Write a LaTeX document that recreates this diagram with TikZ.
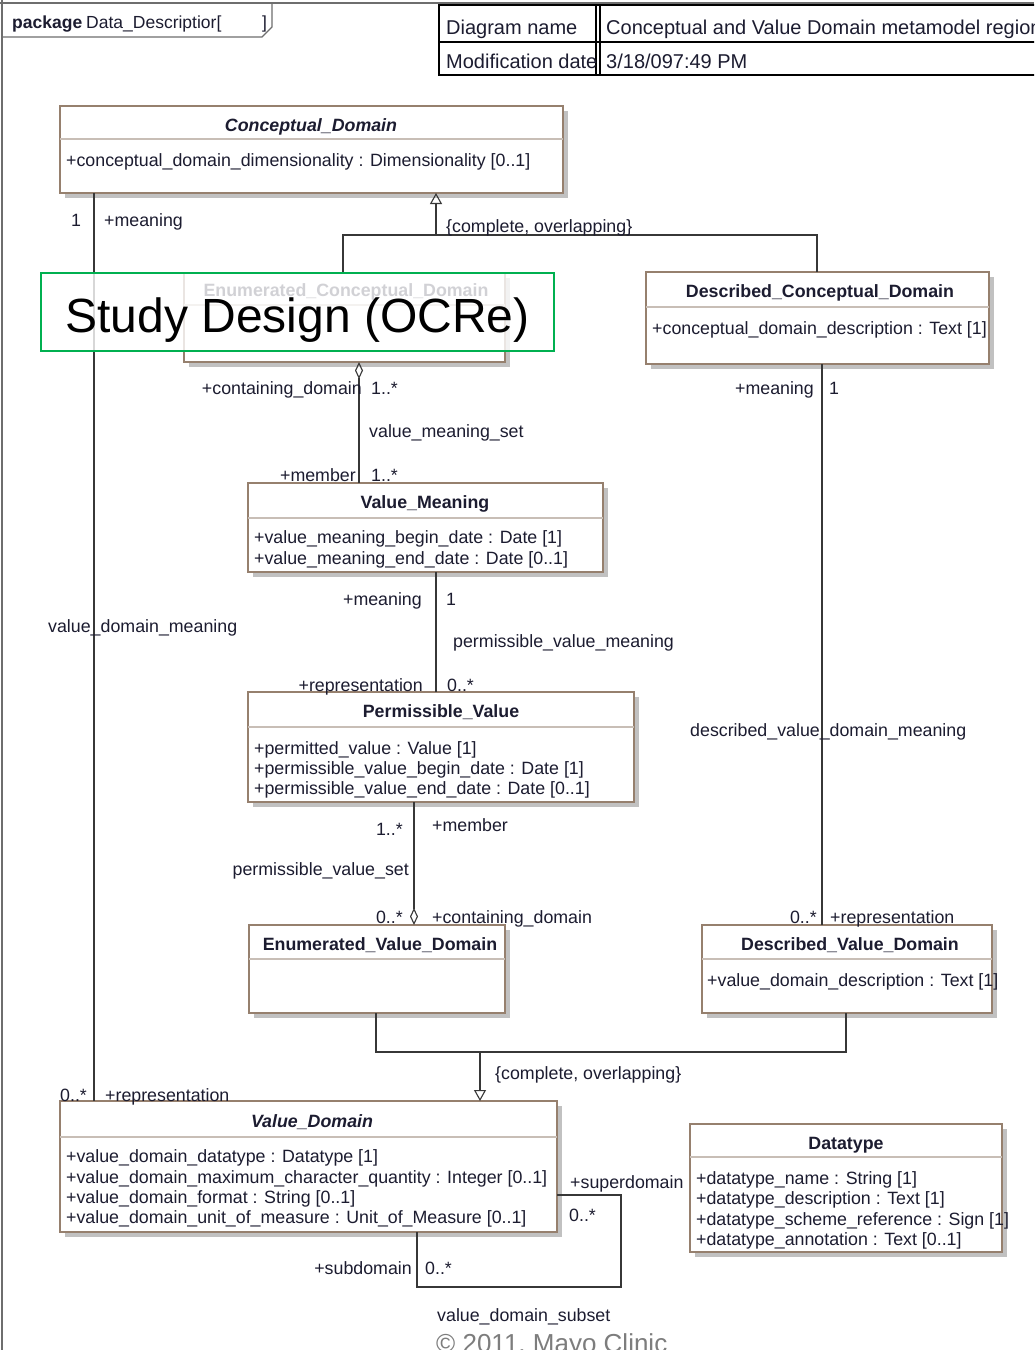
\documentclass[tikz,border=0pt]{standalone}
\usepackage{fontspec}
\setmainfont{Liberation Sans}
\usetikzlibrary{arrows.meta,shadows,fit}

\definecolor{ink}{RGB}{28,28,48}
\definecolor{boxline}{RGB}{150,128,110}
\definecolor{divline}{RGB}{200,190,182}
\definecolor{wire}{RGB}{55,55,55}
\definecolor{framegray}{RGB}{110,110,110}
\definecolor{ocregreen}{RGB}{0,176,80}
\definecolor{footgray}{RGB}{125,125,125}

\newcommand\umlclass[6]{%
  \coordinate (#1-nw) at (#2,#3);
  \coordinate (#1-se) at (#4,#5);
  \node[classbox, fit=(#1-nw)(#1-se)] (#1) {};
  \draw[classdiv] (#2,#6) -- (#4,#6);
}

\begin{document}
\begin{tikzpicture}[x=1pt,y=-1pt,
  classbox/.style={draw=boxline, line width=1.3pt, fill=white, inner sep=0pt, outer sep=0pt,
    drop shadow={shadow xshift=5pt, shadow yshift=-5pt, fill=black!30, opacity=0.8}},
  classdiv/.style={draw=divline, line width=2.2pt},
  lbl/.style={font=\fontsize{17.8}{20.4}\selectfont, text=ink, inner sep=0pt,
    text height=16.7pt, text depth=3.7pt},
  ctitle/.style={lbl, font=\fontsize{17.8}{20.4}\selectfont\bfseries},
  atitle/.style={lbl, font=\fontsize{17.8}{20.4}\selectfont\bfseries\itshape},
  attr/.style={lbl, anchor=west},
  assoc/.style={draw=wire, line width=1.2pt},
  genarrow/.style={assoc, -{Triangle[open, length=11pt, width=12pt, line width=1.1pt]}},
  aggarrow/.style={assoc, {Diamond[open, length=17pt, width=8pt, line width=1.1pt]}-},
  hdr/.style={font=\fontsize{20}{24}\selectfont, text=ink, inner sep=0pt, anchor=west,
    text height=18.3pt, text depth=4.2pt},
]
\useasboundingbox (0,0) rectangle (1034,1350);
\clip (0,0) rectangle (1034,1350);
\fill[white] (0,0) rectangle (1034,1350);

% ---- outer frame and package tab
\draw[framegray, line width=1.5pt] (0,3) -- (1034,3);
\draw[framegray, line width=1.5pt] (2,0) -- (2,1350);
\draw[framegray, line width=1.3pt] (2,37) -- (262,37) -- (272,27) -- (272,3);
\node[lbl, anchor=west, font=\fontsize{17.5}{20}\selectfont\bfseries] (pkgkw) at (12,22) {package};
\node[lbl, anchor=west, font=\fontsize{17.5}{20}\selectfont] (pkgname) at (86,22) {Data\_Descriptior[};
\node[lbl, anchor=west, font=\fontsize{17.5}{20}\selectfont] (pkgclose) at (262,22) {]};

% ---- diagram header table
\draw[black, line width=2.6pt] (439,5) rectangle (1040,75);
\draw[black, line width=2.2pt] (439,42) -- (1040,42);
\draw[black, line width=1.4pt] (596,5) -- (596,75);
\draw[black, line width=1.4pt] (600,5) -- (600,75);
\node[hdr] (hname) at (446,27) {Diagram name};
\node[hdr] (hdate) at (446,61) {Modification date};
\node[hdr] (vname) at (606,27) {Conceptual and Value Domain metamodel region};
\node[hdr] (vdate) at (606,61) {3/18/097:49 PM};

% ---- lanes used by the connectors
\coordinate (laneA) at (94,0);
\coordinate (laneB) at (359,0);
\coordinate (laneC) at (822,0);
\coordinate (laneD) at (436,0);
\coordinate (laneE) at (414,0);
\coordinate (genTopL) at (343,0);
\coordinate (genTopR) at (817,0);
\coordinate (genTopY) at (0,235);
\coordinate (genBotL) at (376,0);
\coordinate (genBotR) at (846,0);
\coordinate (genBotM) at (480,0);
\coordinate (genBotY) at (0,1052);
\coordinate (loopY) at (0,1195);
\coordinate (loopX) at (417,0);
\coordinate (loopC1) at (621,1195);
\coordinate (loopC2) at (621,1287);
\coordinate (loopC3) at (417,1287);

% ---- classes
\umlclass{cd}{60}{106}{563}{193}{139}
\node[atitle] (cdT) at (311,125) {Conceptual\_Domain};
\node[attr] (cdA) at (66,160) {+conceptual\_domain\_dimensionality : Dimensionality [0..1]};

\umlclass{ecd}{184}{273}{505}{362}{305}
\node[ctitle] (ecdT) at (346,290) {Enumerated\_Conceptual\_Domain};

\umlclass{dcd}{646}{272}{989}{364}{307}
\node[ctitle] (dcdT) at (820,291) {Described\_Conceptual\_Domain};
\node[attr] (dcdA) at (652,328) {+conceptual\_domain\_description : Text [1]};

\umlclass{vm}{248}{483}{603}{572}{518}
\node[ctitle] (vmT) at (425,502) {Value\_Meaning};
\node[attr] (vmA1) at (254,537) {+value\_meaning\_begin\_date : Date [1]};
\node[attr] (vmA2) at (254,558) {+value\_meaning\_end\_date : Date [0..1]};

\umlclass{pv}{248}{692}{634}{802}{727}
\node[ctitle] (pvT) at (441,711) {Permissible\_Value};
\node[attr] (pvA1) at (254,748) {+permitted\_value : Value [1]};
\node[attr] (pvA2) at (254,768) {+permissible\_value\_begin\_date : Date [1]};
\node[attr] (pvA3) at (254,788) {+permissible\_value\_end\_date : Date [0..1]};

\umlclass{evd}{249}{925}{505}{1013}{959}
\node[ctitle] (evdT) at (380,944) {Enumerated\_Value\_Domain};

\umlclass{dvd}{702}{925}{992}{1013}{959}
\node[ctitle] (dvdT) at (850,944) {Described\_Value\_Domain};
\node[attr] (dvdA) at (707,980) {+value\_domain\_description : Text [1]};

\umlclass{vd}{60}{1101}{557}{1232}{1137}
\node[atitle] (vdT) at (312,1121) {Value\_Domain};
\node[attr] (vdA1) at (66,1156) {+value\_domain\_datatype : Datatype [1]};
\node[attr] (vdA2) at (66,1177) {+value\_domain\_maximum\_character\_quantity : Integer [0..1]};
\node[attr] (vdA3) at (66,1197) {+value\_domain\_format : String [0..1]};
\node[attr] (vdA4) at (66,1217) {+value\_domain\_unit\_of\_measure : Unit\_of\_Measure [0..1]};

\umlclass{dt}{690}{1124}{1002}{1252}{1157}
\node[ctitle] (dtT) at (846,1143) {Datatype};
\node[attr] (dtA1) at (696,1178) {+datatype\_name : String [1]};
\node[attr] (dtA2) at (696,1198) {+datatype\_description : Text [1]};
\node[attr] (dtA3) at (696,1219) {+datatype\_scheme\_reference : Sign [1]};
\node[attr] (dtA4) at (696,1239) {+datatype\_annotation : Text [0..1]};

% ---- value_domain_meaning
\draw[assoc] (cd.south -| laneA) -- (vd.north -| laneA);
\node[lbl] (l1) at (76,220) {1};
\node[lbl, anchor=west] (l2) at (104,220) {+meaning};
\node[lbl, anchor=west] (l3) at (48,626) {value\_domain\_meaning};
\node[lbl, anchor=west] (l4) at (60,1095) {0..*};
\node[lbl, anchor=west] (l5) at (105,1095) {+representation};

% ---- conceptual domain specialisation
\draw[assoc] (ecd.north -| genTopL) -- (genTopL |- genTopY) -- (genTopR |- genTopY) -- (dcd.north -| genTopR);
\draw[genarrow] (laneD |- genTopY) -- (cd.south -| laneD);
\node[lbl, anchor=west] (l6) at (446,226) {\{complete, overlapping\}};

% ---- value_meaning_set
\draw[aggarrow] (ecd.south -| laneB) -- (vm.north -| laneB);
\node[lbl, anchor=east] (l7) at (362,388) {+containing\_domain};
\node[lbl, anchor=west] (l8) at (371,388) {1..*};
\node[lbl, anchor=west] (l9) at (369,431) {value\_meaning\_set};
\node[lbl, anchor=east] (l10) at (356,475) {+member};
\node[lbl, anchor=west] (l11) at (371,475) {1..*};

% ---- described_value_domain_meaning
\draw[assoc] (dcd.south -| laneC) -- (dvd.north -| laneC);
\node[lbl, anchor=east] (l12) at (814,388) {+meaning};
\node[lbl, anchor=west] (l13) at (829,388) {1};
\node[lbl, anchor=west] (l14) at (690,730) {described\_value\_domain\_meaning};
\node[lbl, anchor=east] (l15) at (817,917) {0..*};
\node[lbl, anchor=west] (l16) at (830,917) {+representation};

% ---- permissible_value_meaning
\draw[assoc] (vm.south -| laneD) -- (pv.north -| laneD);
\node[lbl, anchor=east] (l17) at (422,599) {+meaning};
\node[lbl, anchor=west] (l18) at (446,599) {1};
\node[lbl, anchor=west] (l19) at (453,641) {permissible\_value\_meaning};
\node[lbl, anchor=east] (l20) at (423,685) {+representation};
\node[lbl, anchor=west] (l21) at (447,685) {0..*};

% ---- permissible_value_set
\draw[aggarrow] (evd.north -| laneE) -- (pv.south -| laneE);
\node[lbl, anchor=east] (l22) at (403,829) {1..*};
\node[lbl, anchor=west] (l23) at (432,825) {+member};
\node[lbl, anchor=east] (l24) at (409,869) {permissible\_value\_set};
\node[lbl, anchor=east] (l25) at (403,917) {0..*};
\node[lbl, anchor=west] (l26) at (432,917) {+containing\_domain};

% ---- value domain specialisation
\draw[assoc] (evd.south -| genBotL) -- (genBotL |- genBotY) -- (genBotR |- genBotY) -- (dvd.south -| genBotR);
\draw[genarrow] (genBotM |- genBotY) -- (vd.north -| genBotM);
\node[lbl, anchor=west] (l27) at (495,1073) {\{complete, overlapping\}};

% ---- value_domain_subset
\draw[assoc] (vd.east |- loopY) -- (loopC1) -- (loopC2) -- (loopC3) -- (vd.south -| loopX);
\node[lbl, anchor=west] (l28) at (570,1182) {+superdomain};
\node[lbl, anchor=west] (l29) at (569,1215) {0..*};
\node[lbl, anchor=east] (l30) at (412,1268) {+subdomain};
\node[lbl, anchor=west] (l31) at (425,1268) {0..*};
\node[lbl, anchor=west] (l32) at (437,1315) {value\_domain\_subset};

% ---- study design banner
\node[draw=ocregreen, line width=1.6pt, fill=white, fill opacity=0.8, text opacity=1,
      minimum width=513pt, minimum height=78pt, inner sep=0pt,
      text height=40pt, text depth=0pt,
      font=\fontsize{48}{56}\selectfont, text=black] (banner) at (297.5,312) {Study Design (OCRe)};

% ---- footer
\node[font=\fontsize{26}{30}\selectfont, text=footgray, inner sep=0pt, anchor=base west] (foot) at (436,1352) {© 2011, Mayo Clinic};
\end{tikzpicture}
\end{document}
